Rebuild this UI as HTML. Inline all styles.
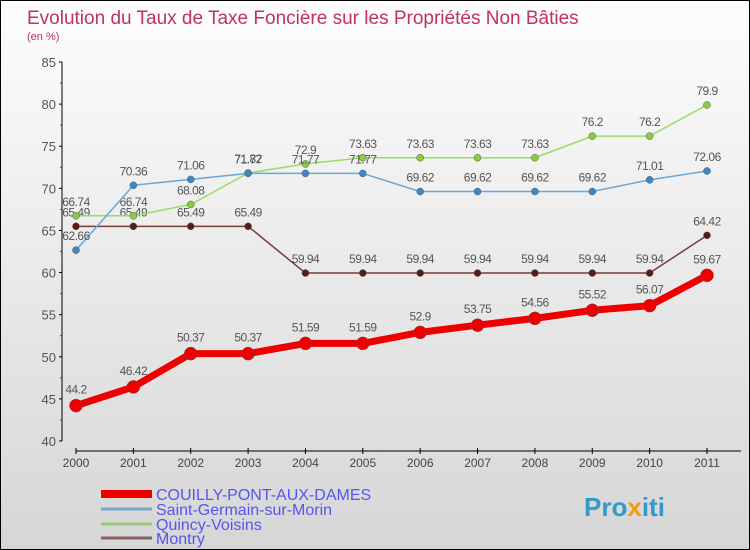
<!DOCTYPE html>
<html><head><meta charset="utf-8"><style>
body{margin:0}
#c{width:750px;height:550px;position:relative;box-sizing:border-box;border:1px solid #000;background:linear-gradient(#fdfdfd,#d6d6d6);font-family:"Liberation Sans",sans-serif;overflow:hidden}
</style></head><body>
<div id="c">
<svg width="748" height="548" style="position:absolute;left:0;top:0" id="s">
<text x="26" y="23" font-size="19" fill="#c0306a">Evolution du Taux de Taxe Foncière sur les Propriétés Non Bâties</text>
<text x="26" y="39" font-size="11" fill="#c0306a">(en %)</text>
<g id="axes"></g><g id="series"></g>
<g>
<line x1="100" y1="493" x2="151" y2="493" stroke="#e00" stroke-width="8"/>
<text x="155" y="499" font-size="16" fill="#5555ee">COUILLY-PONT-AUX-DAMES</text>
<line x1="100" y1="508" x2="151" y2="508" stroke="#7aa7c7" stroke-width="3"/>
<text x="155" y="514" font-size="16" fill="#5555ee">Saint-Germain-sur-Morin</text>
<line x1="100" y1="523" x2="151" y2="523" stroke="#99cc77" stroke-width="3"/>
<text x="155" y="529" font-size="16" fill="#5555ee">Quincy-Voisins</text>
<line x1="100" y1="537" x2="151" y2="537" stroke="#8a6060" stroke-width="3"/>
<text x="155" y="543" font-size="16" fill="#5555ee">Montry</text>
</g>
<text x="583" y="515" font-size="26" font-weight="bold" fill="#3399cc">Pro<tspan fill="#f39c12">x</tspan>iti</text>
</svg>
</div>
<script>
const years=[2000,2001,2002,2003,2004,2005,2006,2007,2008,2009,2010,2011];
const yTicks=[40,45,50,55,60,65,70,75,80,85];
const couilly=[44.2,46.42,50.37,50.37,51.59,51.59,52.9,53.75,54.56,55.52,56.07,59.67];
const saintGermain=[62.66,70.36,71.06,71.77,71.77,71.77,69.62,69.62,69.62,69.62,71.01,72.06];
const quincy=[66.74,66.74,68.08,71.82,72.9,73.63,73.63,73.63,73.63,76.2,76.2,79.9];
const montry=[65.49,65.49,65.49,65.49,59.94,59.94,59.94,59.94,59.94,59.94,59.94,64.42];
const NS='http://www.w3.org/2000/svg';
const X=i=>75+i*(706-75)/(years.length-1);
const Y=v=>440-(v-40)*(440-61)/45;
function mk(t,a,p){const e=document.createElementNS(NS,t);for(const k in a)e.setAttribute(k,a[k]);p.appendChild(e);return e;}
const ax=document.getElementById('axes');
const yAxis=mk('line',{x1:61,y1:61,x2:61,y2:440,stroke:'#000'},ax);


yTicks.forEach((v,i)=>{
 mk('line',{x1:58,y1:Y(v),x2:61,y2:Y(v),stroke:'#000'},ax);
 if(i<yTicks.length-1)mk('line',{x1:59,y1:Y(v+2.5),x2:61,y2:Y(v+2.5),stroke:'#e00'},ax);
 const t=mk('text',{x:55,y:Y(v)+5,'font-size':13,fill:'#555','text-anchor':'end'},ax);t.textContent=v;
 
 
});
const xAxis=mk('line',{x1:75,y1:450,x2:740,y2:450,stroke:'#000'},ax);


years.forEach((y,i)=>{
 mk('line',{x1:X(i),y1:447,x2:X(i),y2:453,stroke:'#000'},ax);
 const t=mk('text',{x:X(i),y:466,'font-size':12,fill:'#444','text-anchor':'middle'},ax);t.textContent=y;
 
 
});
const sg=document.getElementById('series');
function draw(data,name,color,dot,w,r,lblOff){
 const g=mk('g',{},sg);
 
 
 const pl=mk('polyline',{points:data.map((v,i)=>X(i)+','+Y(v)).join(' '),fill:'none',stroke:color,'stroke-width':w,'stroke-linejoin':'round'},g);
 
 
 data.forEach((v,i)=>{
  const c=mk('circle',{cx:X(i),cy:Y(v),r:r,fill:dot,stroke:'#555','stroke-width':0.5},g);
  
  
  const t=mk('text',{x:X(i),y:Y(v)+lblOff,'font-size':12,fill:'#555','text-anchor':'middle','letter-spacing':'-0.5'},g);
  t.textContent=String(v).replace('.','.');
  
  
 });
}
draw(montry,'montry','#7a3b3b','#5a1a1a',1.5,3.5,-10);
draw(quincy,'quincy','#99dd66','#88cc44',1.5,3.5,-10);
draw(saintGermain,'saint-germain','#6aa6d6','#3b88c8',1.5,3.5,-10);
draw(couilly,'couilly','#ee0000','#ee0000',7,6.5,-12);
</script>
</body></html>
